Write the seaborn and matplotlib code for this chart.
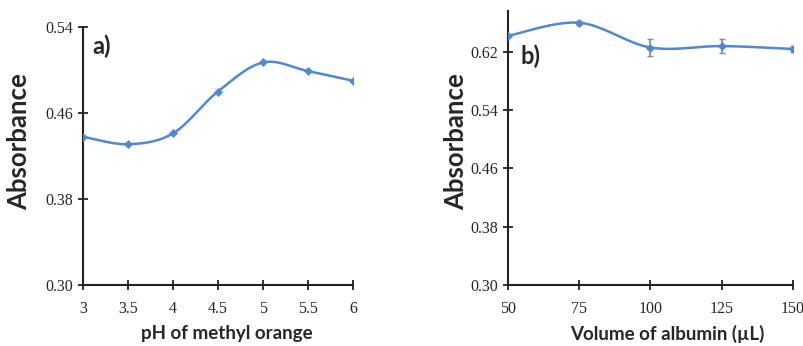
import numpy as np
import pandas as pd
import seaborn as sns
from matplotlib import pyplot as plt

# panel a: pH of methyl orange
ph = [3, 3.5, 4, 4.5, 5, 5.5, 6]
abs_ph = [0.438, 0.431, 0.441, 0.480, 0.507, 0.499, 0.490]

# panel b: volume of albumin
vol = [50, 75, 100, 125, 150]
abs_vol = [0.642, 0.660, 0.626, 0.628, 0.624]
err_vol = [0.0, 0.003, 0.011, 0.010, 0.004]

BLUE = "#5088d2"
LABEL_FONT = ['Lato', 'Open Sans']

sns.set_style("ticks")
plt.rcParams['font.family'] = ['Liberation Serif', 'DejaVu Sans']


def smooth(x, y, n=40):
    # excel-like smoothed line (bezier through points)
    x = np.asarray(x, float)
    y = np.asarray(y, float)
    xs, ys = [], []
    for i in range(len(x) - 1):
        p0 = (x[max(i - 1, 0)], y[max(i - 1, 0)])
        p1 = (x[i], y[i])
        p2 = (x[i + 1], y[i + 1])
        p3 = (x[min(i + 2, len(x) - 1)], y[min(i + 2, len(x) - 1)])
        c1 = (p1[0] + (p2[0] - p0[0]) / 6, p1[1] + (p2[1] - p0[1]) / 6)
        c2 = (p2[0] - (p3[0] - p1[0]) / 6, p2[1] - (p3[1] - p1[1]) / 6)
        t = np.linspace(0, 1, n)
        for k in range(2):
            b = ((1 - t) ** 3 * p1[k] + 3 * (1 - t) ** 2 * t * c1[k]
                 + 3 * (1 - t) * t ** 2 * c2[k] + t ** 3 * p2[k])
            (xs if k == 0 else ys).append(b)
    return np.concatenate(xs), np.concatenate(ys)


def style_axes(ax, yticks, xticks, xlabels, xlabel, ylab_pos, xlab_pos):
    sns.despine(ax=ax)
    for side in ['left', 'bottom']:
        ax.spines[side].set_linewidth(1.5)
        ax.spines[side].set_color('#222222')
    ax.set_yticks(yticks)
    ax.set_yticklabels([f"{v:.2f}" for v in yticks])
    ax.set_xticks(xticks)
    ax.set_xticklabels(xlabels)
    ax.tick_params(direction='inout', length=7, width=1.3, labelsize=11.5,
                   color='#222222')
    ax.tick_params(axis='x', pad=8)
    ax.set_ylabel("Absorbance", family=LABEL_FONT, fontweight='bold',
                  fontsize=18.5)
    ax.yaxis.set_label_coords(*ylab_pos)
    ax.set_xlabel(xlabel, family=LABEL_FONT, fontweight='bold',
                  fontsize=13.5)
    ax.xaxis.set_label_coords(*xlab_pos)


fig = plt.figure(figsize=(8.04, 3.46), dpi=100)
ax1 = fig.add_axes([0.103, 0.176, 0.336, 0.746])
ax2 = fig.add_axes([0.632, 0.176, 0.354, 0.792])

df_a = pd.DataFrame({"pH": ph, "Absorbance": abs_ph})
sx, sy = smooth(ph, abs_ph)
ax1.plot(sx, sy, color=BLUE, lw=1.8)
sns.scatterplot(data=df_a, x="pH", y="Absorbance", marker='D', s=18,
                color=BLUE, edgecolor=BLUE, ax=ax1, zorder=3)
ax1.set_xlim(3, 6)
ax1.set_ylim(0.30, 0.54)
style_axes(ax1, [0.30, 0.38, 0.46, 0.54], ph,
           ["3", "3.5", "4", "4.5", "5", "5.5", "6"], "pH of methyl orange",
           (-0.193, 0.554), (0.533, -0.155))
ax1.text(0.037, 0.926, "a)", transform=ax1.transAxes, family=LABEL_FONT,
         fontweight='bold', fontsize=17, va='center')

df_b = pd.DataFrame({"Volume": vol, "Absorbance": abs_vol})
sx, sy = smooth(vol, abs_vol)
ax2.plot(sx, sy, color=BLUE, lw=1.8)
ax2.errorbar(vol, abs_vol, yerr=err_vol, fmt='none', ecolor='#8a8a8a',
             elinewidth=1.2, capsize=2.5, zorder=2)
sns.scatterplot(data=df_b, x="Volume", y="Absorbance", marker='D', s=18,
                color=BLUE, edgecolor=BLUE, ax=ax2, zorder=3)
ax2.set_xlim(50, 150)
ax2.set_ylim(0.30, 0.676)
style_axes(ax2, [0.30, 0.38, 0.46, 0.54, 0.62], vol,
           [str(v) for v in vol], "Volume of albumin (\u00b5L)",
           (-0.140, 0.522), (0.558, -0.146))
ax2.text(0.042, 0.836, "b)", transform=ax2.transAxes, family=LABEL_FONT,
         fontweight='bold', fontsize=17, va='center')

fig.savefig("out.png", dpi=100)
